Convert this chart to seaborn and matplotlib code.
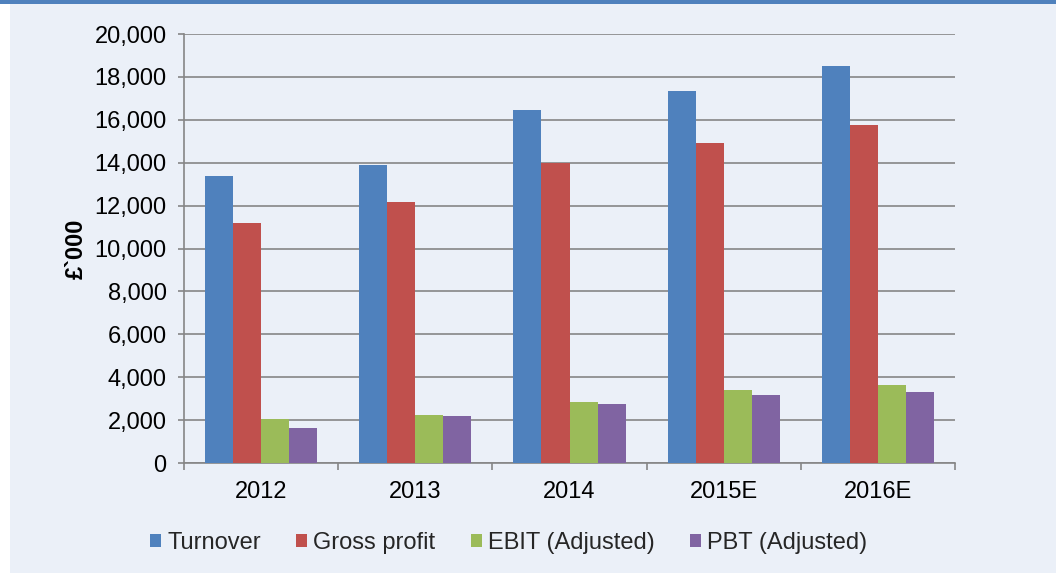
import matplotlib
matplotlib.use("Agg")
import matplotlib.pyplot as plt
import matplotlib.patches as mpatches
import matplotlib.ticker as mticker
import seaborn as sns
import pandas as pd

years = ["2012", "2013", "2014", "2015E", "2016E"]
series = ["Turnover", "Gross profit", "EBIT (Adjusted)", "PBT (Adjusted)"]
turnover = [13400, 13870, 16450, 17330, 18530]
gross_profit = [11210, 12150, 13970, 14900, 15760]
ebit = [2070, 2220, 2860, 3400, 3620]
pbt = [1630, 2190, 2750, 3160, 3320]
y_ticks = list(range(0, 20001, 2000))
colors = ["#4F81BD", "#C0504D", "#9BBB59", "#8064A2"]

rows = []
for name, vals in zip(series, [turnover, gross_profit, ebit, pbt]):
    for yr, v in zip(years, vals):
        rows.append({"Year": yr, "Series": name, "Value": v})
df = pd.DataFrame(rows)

sns.set_theme(style="white")
plt.rcParams["font.family"] = ["Liberation Sans", "DejaVu Sans"]

BG = "#EBF0F8"
GRID = "#868686"
FS = 17

fig = plt.figure(figsize=(10.56, 5.73), dpi=100)
fig.patch.set_facecolor(BG)
# left white margin and top blue strip
fig.add_artist(mpatches.Rectangle((0, 0), 10 / 1056, 1, transform=fig.transFigure,
                                  facecolor="white", edgecolor="none", zorder=0))
fig.add_artist(mpatches.Rectangle((0, 1 - 4 / 573), 1, 4 / 573, transform=fig.transFigure,
                                  facecolor="#4F81BD", edgecolor="none", zorder=1))

ax = fig.add_axes([184 / 1056, 1 - 463 / 573, (955 - 184) / 1056, (463 - 34) / 573])
ax.set_facecolor(BG)

sns.barplot(data=df, x="Year", y="Value", hue="Series", hue_order=series,
            order=years, palette=colors, width=4 / 5.5, gap=0, ax=ax,
            errorbar=None, saturation=1, edgecolor="none", linewidth=0, zorder=3)

ax.set_ylim(0, 20000)
ax.set_xlim(-0.5, len(years) - 0.5)
ax.set_yticks(y_ticks)
ax.yaxis.set_major_formatter(mticker.FuncFormatter(lambda v, p: f"{int(v):,}"))
ax.yaxis.grid(True, color=GRID, linewidth=1.2)
ax.set_axisbelow(True)

for s in ["top", "right"]:
    ax.spines[s].set_visible(False)
for s in ["left", "bottom"]:
    ax.spines[s].set_color(GRID)
    ax.spines[s].set_linewidth(1.2)

ax.tick_params(axis="y", which="major", direction="out", length=4.5, width=1.2,
               color=GRID, labelsize=FS, pad=8, left=True, labelcolor="black")
ax.set_xticks(range(len(years)))
ax.set_xticklabels(years)
ax.tick_params(axis="x", which="major", length=0, labelsize=FS, pad=13, labelcolor="black")
ax.set_xticks([i - 0.5 for i in range(len(years) + 1)], minor=True)
ax.tick_params(axis="x", which="minor", direction="out", length=5, width=1.2, color=GRID, bottom=True)

ax.set_xlabel("")
ax.set_ylabel("£`000", fontsize=FS, fontweight="bold", labelpad=5, color="black")

handles, labels = ax.get_legend_handles_labels()
if ax.get_legend() is not None:
    ax.get_legend().remove()
fig.legend(handles, labels, loc="center", bbox_to_anchor=(508.5 / 1056, 1 - 543 / 573),
           ncol=4, frameon=False, fontsize=FS, handlelength=0.47, handleheight=0.47,
           handletextpad=0.25, columnspacing=1.5, borderpad=0)

fig.savefig("out.png", dpi=100, facecolor=fig.get_facecolor())
